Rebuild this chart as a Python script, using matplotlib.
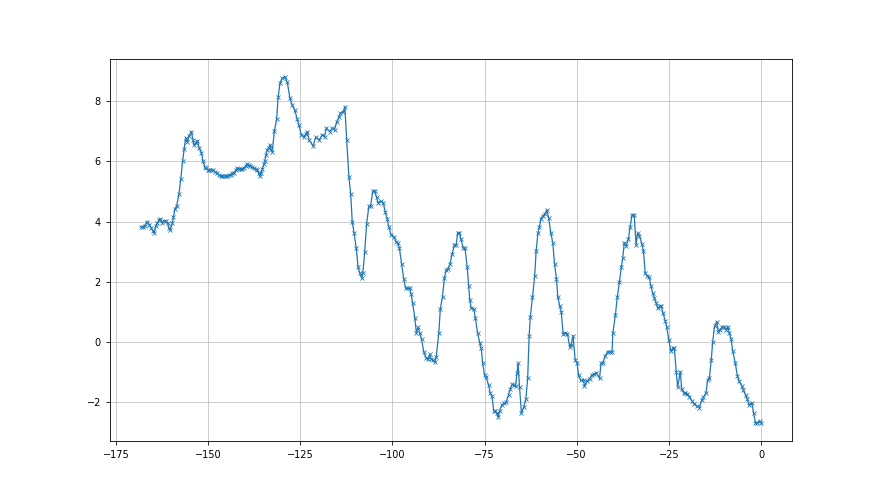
import numpy as np
import matplotlib
matplotlib.use('Agg')
import matplotlib.pyplot as plt

plt.rcParams.update({'font.size': 7})

# values, grouped by stretch of x
x_a = [-168.2, -167.7, -167.2, -166.6, -166.0, -165.5, -165.0, -164.6, -164.2, -163.8,
       -163.3, -163.0, -162.4, -162.0, -161.5, -161.0, -160.6, -160.3, -159.7, -159.4,
       -159.0, -158.5, -157.9, -157.4, -156.9, -156.5, -156.1, -155.6, -155.2, -154.5,
       -154.1, -153.8, -153.3, -152.9, -152.4, -151.8, -151.4, -150.9, -150.6, -150.1,
       -149.7, -149.1, -148.6, -148.0, -147.5, -147.0, -146.6, -146.1, -145.7, -145.2,
       -144.8, -144.3, -143.9, -143.4, -143.0, -142.5, -142.1, -141.6, -141.2, -140.7,
       -140.3, -139.8, -139.4, -138.9, -138.5, -138.0, -137.6, -137.1, -136.7, -136.3,
       -136.0, -135.6, -135.3, -134.9, -134.6, -134.3, -134.0, -133.6, -133.2, -132.9,
       -132.6, -132.0, -131.4, -131.0, -130.5, -129.9, -129.2, -128.5, -127.8, -127.2,
       -126.5, -125.8, -125.4, -124.7, -124.0, -123.5, -123.1]
y_a = [3.83, 3.83, 3.85, 4.0, 3.9, 3.8, 3.7, 3.63, 3.85, 3.95,
       4.05, 4.1, 3.95, 4.02, 4.02, 3.95, 3.8, 3.72, 3.94, 4.14,
       4.41, 4.53, 4.92, 5.42, 6.02, 6.4, 6.77, 6.63, 6.84, 6.99,
       6.7, 6.54, 6.6, 6.69, 6.43, 6.29, 6.02, 5.8, 5.77, 5.72,
       5.72, 5.72, 5.7, 5.65, 5.6, 5.53, 5.51, 5.51, 5.51, 5.51,
       5.51, 5.53, 5.55, 5.6, 5.62, 5.7, 5.77, 5.75, 5.73, 5.74,
       5.77, 5.85, 5.91, 5.87, 5.84, 5.8, 5.77, 5.74, 5.72, 5.6,
       5.51, 5.62, 5.73, 5.9, 6.02, 6.2, 6.36, 6.45, 6.54, 6.4,
       6.32, 7.02, 7.4, 8.13, 8.59, 8.76, 8.81, 8.62, 8.1, 7.87,
       7.71, 7.4, 7.21, 6.88, 6.82, 6.9, 6.99]

x_b = [-122.6, -121.5, -120.8, -119.9, -119.0, -118.4, -117.9, -117.0, -116.3, -115.7,
       -115.1, -114.5, -114.1, -113.3, -112.9, -112.4, -111.8, -111.3, -110.9, -110.4,
       -109.8, -109.3, -108.8, -108.3, -108.0, -107.5, -107.0, -106.4, -105.9, -105.3,
       -104.8, -104.3, -103.9, -103.2, -102.5, -101.9, -101.4, -101.0, -100.3, -99.6,
       -99.0, -98.5, -98.1, -97.5, -96.9, -96.4, -95.8, -95.3, -94.9, -94.5,
       -93.9, -93.5, -93.0, -92.6, -92.1, -91.5, -90.9, -90.3, -89.9, -89.4,
       -89.0, -88.5, -88.1, -87.4, -87.0, -86.4, -85.9, -85.4, -85.0, -84.4,
       -83.8, -83.2, -82.7, -82.3, -81.8, -81.4, -80.8, -80.3, -79.7, -79.3,
       -79.0, -78.6, -77.9, -77.5, -76.9, -76.3, -75.9, -75.5, -75.0, -74.6,
       -73.9, -73.5, -73.0, -72.5, -72.1, -71.6, -71.3, -70.9, -70.3, -69.6,
       -69.1, -68.5, -68.0, -67.5, -67.1, -66.6, -66.2, -65.9, -65.5, -65.0,
       -64.4, -63.8, -63.3]
y_b = [6.71, 6.51, 6.8, 6.71, 6.88, 6.82, 7.1, 6.99, 7.1, 7.04,
       7.32, 7.46, 7.6, 7.65, 7.82, 6.71, 5.49, 4.9, 4.0, 3.61,
       3.11, 2.48, 2.28, 2.12, 2.3, 3.0, 3.91, 4.5, 4.52, 5.02,
       5.02, 4.81, 4.63, 4.68, 4.63, 4.3, 4.1, 3.83, 3.55, 3.5,
       3.33, 3.28, 3.11, 2.59, 2.08, 1.78, 1.78, 1.78, 1.58, 1.28,
       0.79, 0.31, 0.48, 0.29, 0.09, -0.32, -0.52, -0.58, -0.41, -0.58,
       -0.6, -0.68, -0.49, 0.31, 1.1, 1.5, 2.12, 2.39, 2.41, 2.58,
       2.91, 3.22, 3.22, 3.63, 3.63, 3.41, 3.13, 3.11, 2.48, 1.86,
       1.4, 1.12, 1.09, 0.79, 0.31, -0.02, -0.21, -0.71, -1.1, -1.17,
       -1.43, -1.68, -1.81, -2.28, -2.31, -2.36, -2.5, -2.28, -2.09, -2.04,
       -1.98, -1.76, -1.57, -1.41, -1.43, -1.48, -1.04, -0.71, -1.5, -2.37,
       -2.17, -1.91, -1.21]

x_c = [-62.9, -62.6, -62.0, -61.4, -61.0, -60.5, -60.1, -59.7, -59.2, -58.7,
       -58.1, -57.6, -57.0, -56.5, -56.0, -55.5, -55.1, -54.6, -54.2, -53.7,
       -53.1, -52.5, -51.9, -51.5, -51.0, -50.4, -49.9, -49.5, -48.9, -48.1,
       -47.9, -47.2, -46.5, -45.9, -45.3, -44.7, -43.8, -43.4, -42.9, -42.3,
       -41.6, -40.9, -40.4, -40.2, -39.5, -39.0, -38.4, -37.9, -37.5, -37.1,
       -36.6, -36.0, -35.5, -35.0, -34.4, -33.9, -33.5, -33.0, -32.3, -31.9,
       -31.4, -30.8, -30.3, -29.9, -29.4, -28.9, -28.4, -28.0, -27.5, -27.1,
       -26.6, -26.0, -25.6, -25.0, -24.5, -23.9, -23.5]
y_c = [0.2, 0.82, 1.48, 2.19, 3.03, 3.63, 3.83, 4.09, 4.19, 4.24,
       4.39, 4.11, 3.61, 3.3, 2.59, 2.09, 1.48, 1.2, 1.01, 0.27,
       0.3, 0.27, -0.16, -0.1, 0.2, -0.6, -0.7, -1.1, -1.28, -1.26,
       -1.48, -1.3, -1.22, -1.1, -1.07, -1.02, -1.21, -0.71, -0.69, -0.47,
       -0.32, -0.34, -0.32, 0.29, 0.9, 1.48, 2.0, 2.48, 2.78, 3.3,
       3.19, 3.41, 3.81, 4.22, 4.22, 3.22, 3.61, 3.52, 3.26, 3.03,
       2.28, 2.19, 2.15, 1.86, 1.64, 1.45, 1.28, 1.12, 1.18, 1.2,
       0.97, 0.71, 0.51, 0.07, -0.29, -0.21, -0.21]

x_d = [-23.0, -22.6, -21.9, -21.5, -21.0, -20.6, -20.0, -19.4, -18.8, -18.1,
       -17.4, -16.7, -16.1, -15.6, -14.9, -14.5, -14.0, -13.5, -13.1, -12.6,
       -12.0, -11.6, -11.1, -10.6, -10.0, -9.5, -9.0, -8.6, -8.1, -7.7,
       -7.0, -6.4, -5.9, -5.2, -4.8, -4.2, -3.7, -3.2, -2.5, -2.0,
       -1.5, -1.0, -0.4, 0.0]
y_d = [-0.99, -1.5, -0.99, -1.57, -1.68, -1.7, -1.72, -1.82, -1.95, -2.06,
       -2.13, -2.18, -1.93, -1.84, -1.68, -1.28, -1.2, -0.6, 0.01, 0.53,
       0.67, 0.34, 0.41, 0.49, 0.51, 0.41, 0.51, 0.31, 0.09, -0.29,
       -0.69, -1.13, -1.31, -1.46, -1.6, -1.76, -1.91, -2.09, -2.02, -2.37,
       -2.68, -2.7, -2.62, -2.68]

x = np.array(x_a + x_b + x_c + x_d)
y = np.array(y_a + y_b + y_c + y_d)

fig, ax = plt.subplots(figsize=(8.8, 4.95), dpi=100)
ax.plot(x, y, marker='x', color='tab:blue', linewidth=0.9, markersize=3, markeredgewidth=0.6)
ax.grid(True, color='#c4c4c4', linewidth=0.6)
ax.set_xticks([-175, -150, -125, -100, -75, -50, -25, 0])
ax.set_yticks([-2, 0, 2, 4, 6, 8])
for s in ax.spines.values():
    s.set_linewidth(0.6)
ax.tick_params(width=0.6, length=3)

fig.savefig('out.png', dpi=100)
